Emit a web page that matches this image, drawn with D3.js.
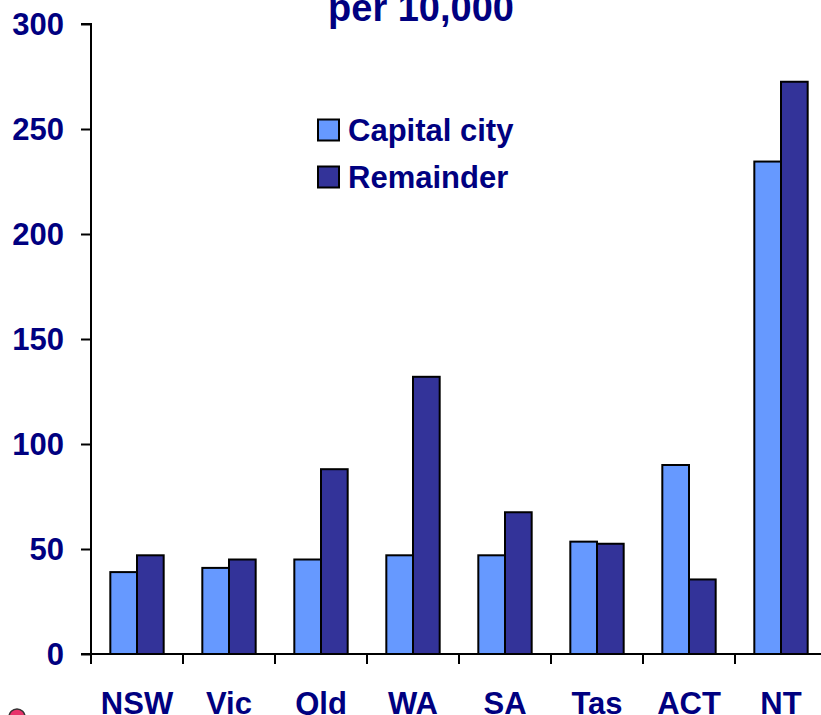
<!DOCTYPE html>
<html>
<head>
<meta charset="utf-8">
<script src="https://cdn.jsdelivr.net/npm/d3@7"></script>
<style>
  body { margin: 0; background: #fff; }
  svg { display: block; font-family: Arial, "Liberation Sans", sans-serif; font-weight: bold; }
</style>
</head>
<body>
<script>
// chart data
var states    = ["NSW", "Vic", "Qld", "WA", "SA", "Tas", "ACT", "NT"];
var seriesNames = ["Capital city", "Remainder"];
var capital   = [39, 41, 45, 47, 47, 53.5, 90, 234.5];
var remainder = [47, 45, 88, 132, 67.5, 52.5, 35.5, 272.5];
var yTicks    = [0, 50, 100, 150, 200, 250, 300];
var title     = "per 10,000";

var colors = ["#6699ff", "#333399"];
var navy = "#000080";

var W = 821, H = 715;
// plot edges (right edge runs past the picture, as in the original)
var plotLeft = 91, plotTop = 24, plotBottom = 654, plotRight = 91 + 92 * 8;

var svg = d3.select("body").append("svg")
  .attr("width", W)
  .attr("height", H);

var x = d3.scaleBand()
  .domain(states)
  .range([plotLeft, plotRight])
  .paddingInner(0.42)
  .paddingOuter(0.21);

var x1 = d3.scaleBand()
  .domain(seriesNames)
  .range([0, x.bandwidth()]);

var y = d3.scaleLinear()
  .domain([0, 300])
  .range([plotBottom, plotTop]);

var rows = states.map(function (s, i) {
  return { state: s, values: [capital[i], remainder[i]] };
});

// bars
var groups = svg.selectAll("g.grp")
  .data(rows)
  .enter()
  .append("g")
  .attr("class", "grp")
  .attr("transform", function (d) { return "translate(" + x(d.state) + ",0)"; });

groups.selectAll("rect")
  .data(function (d) { return d.values.map(function (v, j) { return { name: seriesNames[j], v: v, j: j }; }); })
  .enter()
  .append("rect")
  .attr("x", function (d) { return x1(d.name); })
  .attr("y", function (d) { return y(d.v); })
  .attr("width", x1.bandwidth())
  .attr("height", function (d) { return y(0) - y(d.v); })
  .style("fill", function (d) { return colors[d.j]; })
  .style("stroke", "#000")
  .style("stroke-width", 2);

// y axis
var yAxis = d3.axisLeft(y)
  .tickValues(yTicks)
  .tickSize(10)
  .tickPadding(17);

var gy = svg.append("g")
  .attr("transform", "translate(" + plotLeft + ",0)")
  .call(yAxis);
gy.select(".domain").attr("stroke", "#000").attr("stroke-width", 2)
  .attr("d", "M-10," + y(300) + "H0V" + y(0) + "H-10");
gy.selectAll(".tick line").attr("stroke", "#000").attr("stroke-width", 2);
gy.selectAll(".tick text")
  .attr("fill", navy)
  .style("font-size", "31px")
  .style("font-weight", "bold")
  .style("font-family", "Arial, 'Liberation Sans', sans-serif")
  .attr("dy", "0.35em");

// x axis line + boundary ticks
svg.append("line")
  .attr("x1", plotLeft).attr("x2", W)
  .attr("y1", y(0)).attr("y2", y(0))
  .attr("stroke", "#000").attr("stroke-width", 2);

var step = x.step();
var bounds = d3.range(states.length + 1).map(function (i) { return plotLeft + i * step; });
svg.selectAll("line.xtick")
  .data(bounds)
  .enter()
  .append("line")
  .attr("class", "xtick")
  .attr("x1", function (d) { return d; })
  .attr("x2", function (d) { return d; })
  .attr("y1", y(0))
  .attr("y2", y(0) + 10)
  .attr("stroke", "#000").attr("stroke-width", 2);

svg.selectAll("text.cat")
  .data(states)
  .enter()
  .append("text")
  .attr("class", "cat")
  .attr("x", function (d) { return x(d) + x.bandwidth() / 2; })
  .attr("y", 714)
  .attr("text-anchor", "middle")
  .attr("fill", navy)
  .style("font-size", "31px")
  .text(function (d) { return d; });

// title (cut off at top)
svg.append("text")
  .attr("x", 421)
  .attr("y", 21)
  .attr("text-anchor", "middle")
  .attr("fill", navy)
  .style("font-size", "38px")
  .text(title);

// legend
var legend = svg.selectAll("g.leg")
  .data(seriesNames)
  .enter()
  .append("g")
  .attr("class", "leg")
  .attr("transform", function (d, i) { return "translate(318," + (130 + i * 47) + ")"; });

legend.append("rect")
  .attr("x", 0).attr("y", -10.5)
  .attr("width", 21).attr("height", 21)
  .style("fill", function (d, i) { return colors[i]; })
  .style("stroke", "#000")
  .style("stroke-width", 2);

legend.append("text")
  .attr("x", 30)
  .attr("y", 0)
  .attr("dy", "0.35em")
  .attr("fill", navy)
  .style("font-size", "31px")
  .text(function (d) { return d; });

// stray bullet at bottom left
svg.append("circle")
  .attr("cx", 17).attr("cy", 717)
  .attr("r", 8)
  .style("fill", "#e8336b")
  .style("stroke", "#333")
  .style("stroke-width", 1.5);
</script>
</body>
</html>
